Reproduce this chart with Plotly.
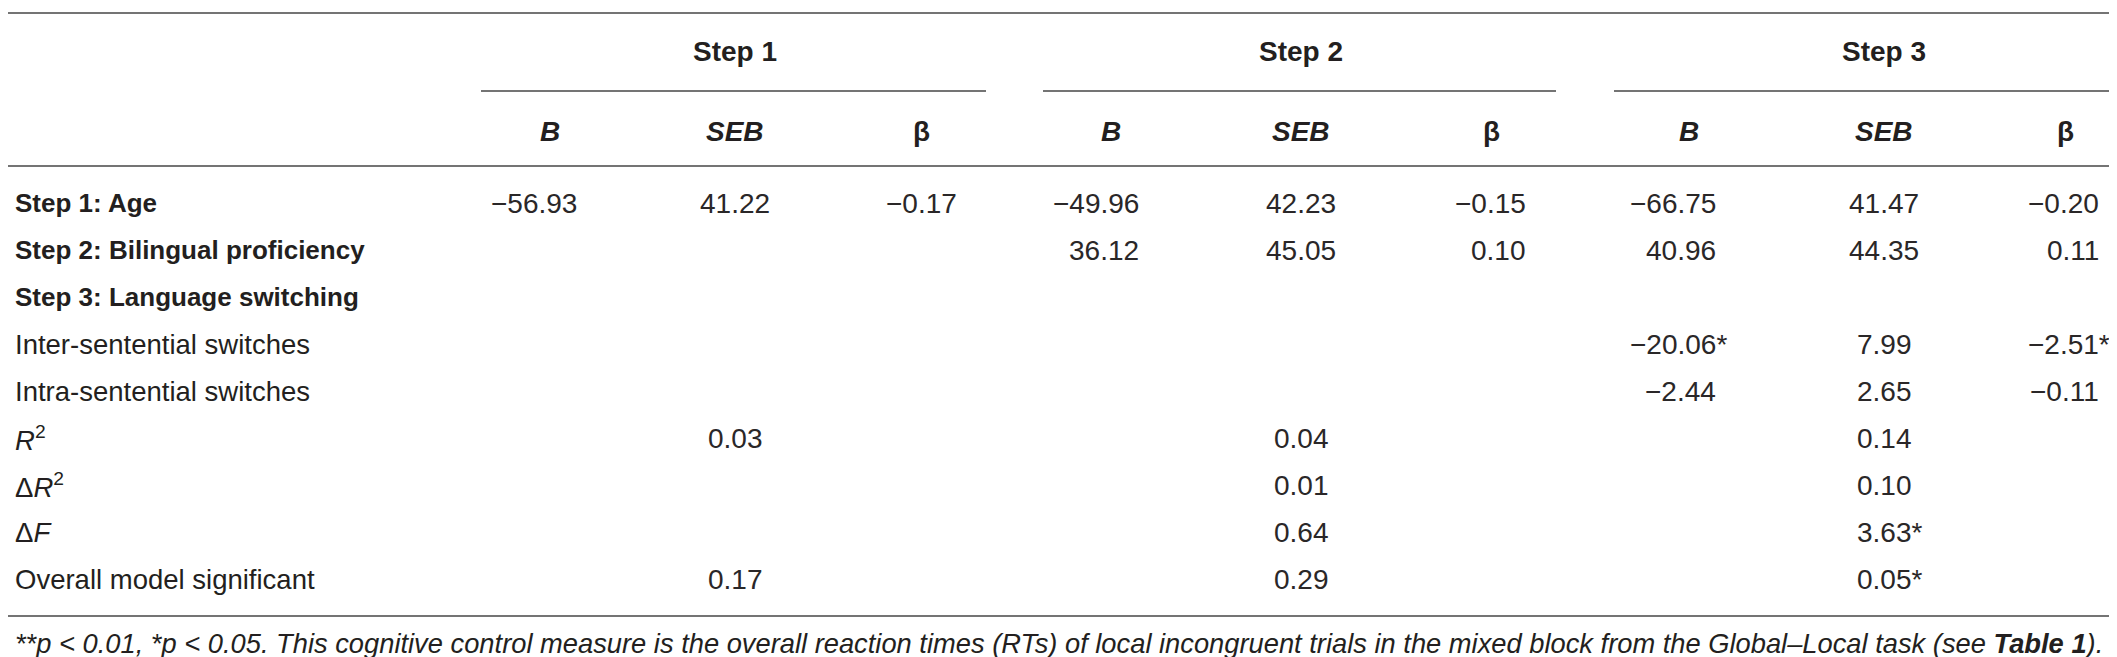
import plotly.graph_objects as go

W, H = 2117, 657

# ---- data ----
steps = ["Step 1", "Step 2", "Step 3"]
col_heads = ["<b><i>B</i></b>", "<b><i>SEB</i></b>", "<b>β</b>"]

row_labels = [
    "<b>Step 1: Age</b>",
    "<b>Step 2: Bilingual proficiency</b>",
    "<b>Step 3: Language switching</b>",
    "Inter-sentential switches",
    "Intra-sentential switches",
    "<i>R</i><sup>2</sup>",
    "Δ<i>R</i><sup>2</sup>",
    "Δ<i>F</i>",
    "Overall model significant",
]
label_bold = [True, True, True, False, False, False, False, False, False]

# one entry per row: [B, SEB, beta] for step 1, step 2, step 3 ("" = empty cell)
step1_vals = [
    ["−56.93", "41.22", "−0.17"],
    ["", "", ""],
    ["", "", ""],
    ["", "", ""],
    ["", "", ""],
    ["", "0.03", ""],
    ["", "", ""],
    ["", "", ""],
    ["", "0.17", ""],
]
step2_vals = [
    ["−49.96", "42.23", "−0.15"],
    ["36.12", "45.05", "0.10"],
    ["", "", ""],
    ["", "", ""],
    ["", "", ""],
    ["", "0.04", ""],
    ["", "0.01", ""],
    ["", "0.64", ""],
    ["", "0.29", ""],
]
step3_vals = [
    ["−66.75", "41.47", "−0.20"],
    ["40.96", "44.35", "0.11"],
    ["", "", ""],
    ["−20.06*", "7.99", "−2.51*"],
    ["−2.44", "2.65", "−0.11"],
    ["", "0.14", ""],
    ["", "0.10", ""],
    ["", "3.63*", ""],
    ["", "0.05*", ""],
]

footnote = ("**<i>p</i> < 0.01, *<i>p</i> < 0.05. This cognitive control measure is the overall "
            "reaction times (RTs) of local incongruent trials in the mixed block from the "
            "Global–Local task (see <b>Table 1</b>).")

# ---- layout geometry (pixels) ----
seb_x = [727, 1293, 1876]
b_head_x = [542, 1103, 1681]
beta_head_x = [913, 1483, 2057]
b_right = [570, 1132, 1709]
beta_right = [950, 1519, 2092]
underlines = [(473, 978), (1035, 1548), (1606, 2117)]
row_y0, row_dy = 195, 47.1

TXT = "#231f20"
VAL = "#2a2728"
LINE = "#747474"
FONT = "Liberation Sans, Arial, Helvetica, sans-serif"
FS_HEAD = 28
FS_VAL = 28
FS_BOLD_LAB = 26
FS_LAB = 27.5
FS_NOTE = 27.3
STAR_W = 0.389 * FS_VAL  # width of "*" so the star hangs past the column edge

fig = go.Figure()
fig.add_trace(go.Scatter(x=[0, W], y=[0, H], mode="markers",
                         marker=dict(opacity=0), hoverinfo="skip", showlegend=False))

ann = []


def text(x, y, s, anchor="center", size=FS_VAL, color=TXT):
    ann.append(dict(x=x, y=y, xref="x", yref="y", text=s, showarrow=False,
                    xanchor=anchor, yanchor="middle", borderpad=0,
                    font=dict(family=FONT, size=size, color=color)))


def cell(x, y, s, mode):
    if not s:
        return
    n_stars = len(s) - len(s.rstrip("*"))
    shift = n_stars * STAR_W
    if mode == "center":
        text(x + shift / 2, y, s, color=VAL)
    else:
        text(x + shift, y, s, anchor="right", color=VAL)


shapes = []


def hline(x0, x1, y):
    shapes.append(dict(type="line", xref="x", yref="y", x0=x0, x1=x1, y0=y, y1=y,
                       line=dict(color=LINE, width=2)))


hline(0, W, 5)
hline(0, W, 158)
hline(0, W, 608)
for (a, b) in underlines:
    hline(a, b, 83)

for g, name in enumerate(steps):
    text(seb_x[g], 43, "<b>" + name + "</b>", size=FS_HEAD)
    text(b_head_x[g], 123, col_heads[0], size=FS_HEAD)
    text(seb_x[g], 123, col_heads[1], size=FS_HEAD)
    text(beta_head_x[g], 123, col_heads[2], size=FS_HEAD)

all_vals = [step1_vals, step2_vals, step3_vals]
for i, lab in enumerate(row_labels):
    y = row_y0 + row_dy * i
    text(6, y, lab, anchor="left", size=FS_BOLD_LAB if label_bold[i] else FS_LAB)
    for g in range(3):
        b, seb, beta = all_vals[g][i]
        cell(b_right[g], y, b, "right")
        cell(seb_x[g], y, seb, "center")
        cell(beta_right[g], y, beta, "right")

text(6, 635, "<i>" + footnote + "</i>", anchor="left", size=FS_NOTE)

fig.update_layout(
    width=W, height=H,
    margin=dict(l=0, r=0, t=0, b=0),
    paper_bgcolor="white", plot_bgcolor="white",
    xaxis=dict(range=[0, W], visible=False, fixedrange=True),
    yaxis=dict(range=[H, 0], visible=False, fixedrange=True),
    annotations=ann, shapes=shapes,
)

fig.write_html("out.html", config={"displayModeBar": False})
